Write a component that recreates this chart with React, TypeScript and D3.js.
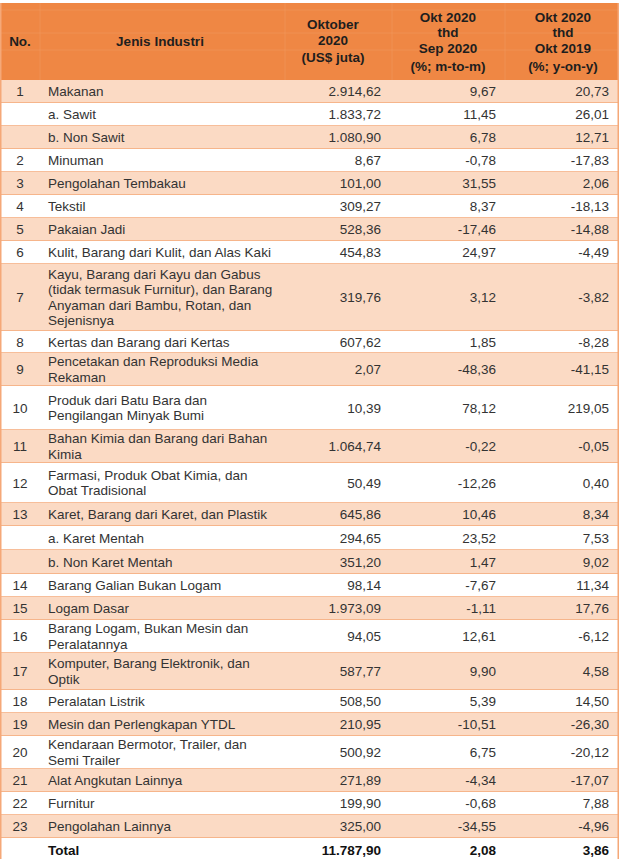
import * as d3 from "d3";
import React, { useEffect, useRef } from "react";

// table content
const nomor = ["1", "", "", "2", "3", "4", "5", "6", "7", "8", "9", "10", "11", "12", "13", "", "", "14", "15", "16", "17", "18", "19", "20", "21", "22", "23", ""];

const jenis = [
  ["Makanan"],
  ["a. Sawit"],
  ["b. Non Sawit"],
  ["Minuman"],
  ["Pengolahan Tembakau"],
  ["Tekstil"],
  ["Pakaian Jadi"],
  ["Kulit, Barang dari Kulit, dan Alas Kaki"],
  ["Kayu, Barang dari Kayu dan Gabus", "(tidak termasuk Furnitur), dan Barang", "Anyaman dari Bambu, Rotan, dan", "Sejenisnya"],
  ["Kertas dan Barang dari Kertas"],
  ["Pencetakan dan Reproduksi Media", "Rekaman"],
  ["Produk dari Batu Bara dan", "Pengilangan Minyak Bumi"],
  ["Bahan Kimia dan Barang dari Bahan", "Kimia"],
  ["Farmasi, Produk Obat Kimia, dan", "Obat Tradisional"],
  ["Karet, Barang dari Karet, dan Plastik"],
  ["a. Karet Mentah"],
  ["b. Non Karet Mentah"],
  ["Barang Galian Bukan Logam"],
  ["Logam Dasar"],
  ["Barang Logam, Bukan Mesin dan", "Peralatannya"],
  ["Komputer, Barang Elektronik, dan", "Optik"],
  ["Peralatan Listrik"],
  ["Mesin dan Perlengkapan YTDL"],
  ["Kendaraan Bermotor, Trailer, dan", "Semi Trailer"],
  ["Alat Angkutan Lainnya"],
  ["Furnitur"],
  ["Pengolahan Lainnya"],
  ["Total"],
];

const oktober2020 = [2914.62, 1833.72, 1080.9, 8.67, 101.0, 309.27, 528.36, 454.83, 319.76, 607.62, 2.07, 10.39, 1064.74, 50.49, 645.86, 294.65, 351.2, 98.14, 1973.09, 94.05, 587.77, 508.5, 210.95, 500.92, 271.89, 199.9, 325.0, 11787.9];
const mtm = [9.67, 11.45, 6.78, -0.78, 31.55, 8.37, -17.46, 24.97, 3.12, 1.85, -48.36, 78.12, -0.22, -12.26, 10.46, 23.52, 1.47, -7.67, -1.11, 12.61, 9.9, 5.39, -10.51, 6.75, -4.34, -0.68, -34.55, 2.08];
const yoy = [20.73, 26.01, 12.71, -17.83, 2.06, -18.13, -14.88, -4.49, -3.82, -8.28, -41.15, 219.05, -0.05, 0.4, 8.34, 7.53, 9.02, 11.34, 17.76, -6.12, 4.58, 14.5, -26.3, -20.12, -17.07, 7.88, -4.96, 3.86];

const headers = [
  ["No."],
  ["Jenis Industri"],
  ["Oktober", "2020", "(US$ juta)"],
  ["Okt 2020", "thd", "Sep 2020", "(%; m-to-m)"],
  ["Okt 2020", "thd", "Okt 2019", "(%; y-on-y)"],
];

// layout
const rowHeights = [23, 23, 23, 23, 23, 23, 23, 23, 67, 22, 33, 44, 33, 40, 23, 24, 24, 23, 23, 33, 37, 23, 23, 33, 23, 23, 23, 24];
const headerTop = 3;
const headerBottom = 80;
const colEdges = [0, 40, 285, 392, 505, 619];

function App() {
  const ref = useRef(null);

  useEffect(() => {
    const svg = d3.select(ref.current);
    svg.selectAll("*").remove();

    const id = d3.formatLocale({ decimal: ",", thousands: ".", grouping: [3], currency: ["", ""], minus: "-" });
    const fmt = id.format(",.2f");

    const orange = "#ef8744";
    const pink = "#fbdac4";
    const lineCol = "#f5a878";
    const textCol = "#333333";
    const font = "'Liberation Sans', Arial, sans-serif";
    const fs = 13.5;

    const tableW = colEdges[colEdges.length - 1];

    // header
    svg.append("rect").attr("x", 0).attr("y", headerTop).attr("width", tableW).attr("height", headerBottom - headerTop).attr("fill", orange);

    // faint header grid
    const hg = svg.append("g").attr("stroke", "#f5a570").attr("stroke-width", 0.8).attr("opacity", 0.45);
    colEdges.slice(1, -1).forEach((x) => {
      hg.append("line").attr("x1", x).attr("x2", x).attr("y1", headerTop).attr("y2", headerBottom);
    });
    [10, 33, 50].forEach((y) => {
      hg.append("line").attr("x1", 0).attr("x2", tableW).attr("y1", y).attr("y2", y);
    });

    const headerY = [[41], [41], [24, 40, 57], [17, 32, 48, 66], [17, 32, 48, 66]];
    const headerX = [20, 160, 333, 448, 563];
    headers.forEach((lines, i) => {
      lines.forEach((t, j) => {
        svg.append("text")
          .attr("x", headerX[i])
          .attr("y", headerY[i][j])
          .attr("text-anchor", "middle")
          .attr("dominant-baseline", "central")
          .attr("font-family", font)
          .attr("font-size", fs)
          .attr("font-weight", "bold")
          .attr("fill", "#1e1e1e")
          .text(t);
      });
    });

    // body rows
    const tops = [];
    let acc = headerBottom;
    rowHeights.forEach((h) => {
      tops.push(acc);
      acc += h;
    });

    const rows = svg.selectAll("g.row").data(jenis).enter().append("g").attr("class", "row")
      .attr("transform", (d, i) => "translate(0," + tops[i] + ")");

    rows.append("rect")
      .attr("x", 0)
      .attr("width", tableW)
      .attr("height", (d, i) => rowHeights[i])
      .attr("fill", (d, i) => (i % 2 === 0 ? pink : "#ffffff"));

    rows.append("line")
      .attr("x1", 0).attr("x2", tableW)
      .attr("y1", (d, i) => rowHeights[i]).attr("y2", (d, i) => rowHeights[i])
      .attr("stroke", lineCol)
      .attr("stroke-width", (d, i) => (i === jenis.length - 1 ? 0 : 1.5));

    const isTotal = (i) => i === jenis.length - 1;
    const lineGap = 15.4;

    rows.append("text")
      .attr("x", 20)
      .attr("y", (d, i) => rowHeights[i] / 2)
      .attr("text-anchor", "middle")
      .attr("dominant-baseline", "central")
      .attr("font-family", font).attr("font-size", fs).attr("fill", textCol)
      .text((d, i) => nomor[i]);

    rows.each(function (d, i) {
      const g = d3.select(this);
      const mid = rowHeights[i] / 2;
      d.forEach((t, j) => {
        g.append("text")
          .attr("x", 48)
          .attr("y", mid + (j - (d.length - 1) / 2) * lineGap)
          .attr("dominant-baseline", "central")
          .attr("font-family", font).attr("font-size", fs)
          .attr("font-weight", isTotal(i) ? "bold" : "normal")
          .attr("fill", isTotal(i) ? "#111" : textCol)
          .text(t);
      });
    });

    const numCols = [
      { vals: oktober2020, x: 381 },
      { vals: mtm, x: 496 },
      { vals: yoy, x: 609 },
    ];
    numCols.forEach((c) => {
      rows.append("text")
        .attr("x", c.x)
        .attr("y", (d, i) => rowHeights[i] / 2)
        .attr("text-anchor", "end")
        .attr("dominant-baseline", "central")
        .attr("font-family", font).attr("font-size", fs)
        .attr("font-weight", (d, i) => (isTotal(i) ? "bold" : "normal"))
        .attr("fill", (d, i) => (isTotal(i) ? "#111" : textCol))
        .text((d, i) => fmt(c.vals[i]));
    });

    // outer side borders
    svg.append("line").attr("x1", 0.75).attr("x2", 0.75).attr("y1", headerTop).attr("y2", acc).attr("stroke", lineCol).attr("stroke-width", 1.5);
    svg.append("line").attr("x1", tableW - 0.75).attr("x2", tableW - 0.75).attr("y1", headerTop).attr("y2", acc).attr("stroke", lineCol).attr("stroke-width", 1.5);
  }, []);

  return (
    <svg ref={ref} width={622} height={859} style={{ position: "absolute", left: 0, top: 0, background: "#fff" }} />
  );
}

export default App;
